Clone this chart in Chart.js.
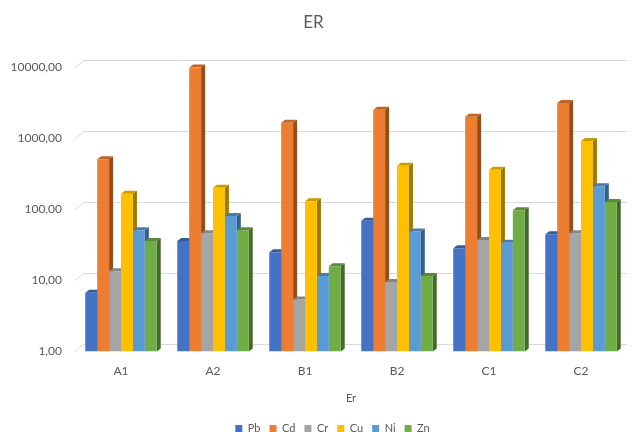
<!DOCTYPE html>
<html>
<head>
<meta charset="utf-8">
<script src="https://cdn.jsdelivr.net/npm/chart.js@4/dist/chart.umd.min.js"></script>
<style>
  html, body { margin: 0; padding: 0; background: #fff; }
  #wrap { width: 636px; height: 432px; }
</style>
</head>
<body>
<div id="wrap"><canvas id="c" width="636" height="432"></canvas></div>
<script>
// Sampling sites
const categories = ['A1', 'A2', 'B1', 'B2', 'C1', 'C2'];

// Ecological risk factor per metal
const seriesNames = ['Pb', 'Cd', 'Cr', 'Cu', 'Ni', 'Zn'];
const pb = [6.7, 36, 25, 69, 28.4, 44.6];
const cd = [510, 10000, 1660, 2540, 2010, 3150];
const cr = [13.5, 46, 5.4, 9.5, 37, 46];
const cu = [166, 201, 130, 413, 363, 920];
const ni = [51, 81, 11.5, 49, 34, 212];
const zn = [36, 51, 15.8, 11.5, 97, 127];

const yTicks = [1, 10, 100, 1000, 10000];

const colors = ['#4472C4', '#ED7D31', '#A5A5A5', '#FFC000', '#5B9BD5', '#70AD47'];
const values = [pb, cd, cr, cu, ni, zn];

function shade(hex, f) {
  const n = parseInt(hex.slice(1), 16);
  const r = Math.round(((n >> 16) & 255) * f);
  const g = Math.round(((n >> 8) & 255) * f);
  const b = Math.round((n & 255) * f);
  return `rgb(${r},${g},${b})`;
}

const FONT = 'Lato, "Open Sans", sans-serif';
const TEXT = '#595959';

// Back-wall gridlines plus the top and side faces of each bar
const depthPlugin = {
  id: 'depth',
  afterLayout(chart) {
    // legend sits centred under the plot rather than the canvas
    const lg = chart.legend;
    if (lg) { lg.left += 19; lg.right += 19; }
  },
  beforeDatasetsDraw(chart) {
    const { ctx, chartArea, scales } = chart;
    const y = scales.y;
    ctx.save();
    ctx.strokeStyle = '#d9d9d9';
    ctx.lineWidth = 1;
    yTicks.forEach(v => {
      const py = Math.round(y.getPixelForValue(v)) + 0.5;
      ctx.beginPath();
      ctx.moveTo(chartArea.left, py);
      ctx.lineTo(chartArea.left + 9, py - 7);
      ctx.lineTo(chartArea.right, py - 7);
      ctx.stroke();
    });
    const dx = 4, dy = 3;
    chart.data.datasets.forEach((ds, i) => {
      const meta = chart.getDatasetMeta(i);
      meta.data.forEach(bar => {
        const left = bar.x - bar.width / 2;
        const right = bar.x + bar.width / 2;
        const top = bar.y;
        const bottom = bar.base;
        // side face
        ctx.fillStyle = shade(colors[i], 0.62);
        ctx.beginPath();
        ctx.moveTo(right, top);
        ctx.lineTo(right + dx, top - dy);
        ctx.lineTo(right + dx, bottom - dy);
        ctx.lineTo(right, bottom);
        ctx.closePath();
        ctx.fill();
        // top face
        ctx.fillStyle = shade(colors[i], 0.8);
        ctx.beginPath();
        ctx.moveTo(left, top);
        ctx.lineTo(left + dx, top - dy);
        ctx.lineTo(right + dx, top - dy);
        ctx.lineTo(right, top);
        ctx.closePath();
        ctx.fill();
      });
    });
    ctx.restore();
  }
};

new Chart(document.getElementById('c'), {
  type: 'bar',
  data: {
    labels: categories,
    datasets: seriesNames.map((name, i) => ({
      label: name,
      data: values[i],
      backgroundColor: colors[i],
      borderWidth: 0,
      barPercentage: 1,
      categoryPercentage: 0.777
    }))
  },
  options: {
    responsive: false,
    animation: false,
    devicePixelRatio: 1,
    layout: { padding: { left: 0, right: 9, top: 0, bottom: -12 } },
    plugins: {
      title: {
        display: true,
        text: 'ER',
        color: TEXT,
        font: { family: FONT, size: 17, weight: 'normal' },
        padding: { top: 12, bottom: 35 }
      },
      legend: {
        position: 'bottom',
        labels: {
          color: TEXT,
          font: { family: FONT, size: 11 },
          boxWidth: 7,
          boxHeight: 7,
          padding: 9
        }
      },
      tooltip: { enabled: false }
    },
    scales: {
      x: {
        grid: { display: false, drawTicks: false },
        border: { display: false },
        ticks: { color: TEXT, font: { family: FONT, size: 12 }, padding: 13 },
        title: { display: true, text: 'Er', color: TEXT, font: { family: FONT, size: 11 }, padding: { top: 0, bottom: 9 } }
      },
      y: {
        type: 'logarithmic',
        min: 1,
        max: 10000,
        afterFit(s) { s.width = 75; },
        afterBuildTicks(s) { s.ticks = yTicks.map(v => ({ value: v })); },
        grid: { display: false, drawTicks: false },
        border: { display: false },
        ticks: {
          color: TEXT,
          font: { family: FONT, size: 12 },
          padding: 13,
          callback: v => v.toFixed(2).replace('.', ',')
        }
      }
    }
  },
  plugins: [depthPlugin]
});
</script>
</body>
</html>
